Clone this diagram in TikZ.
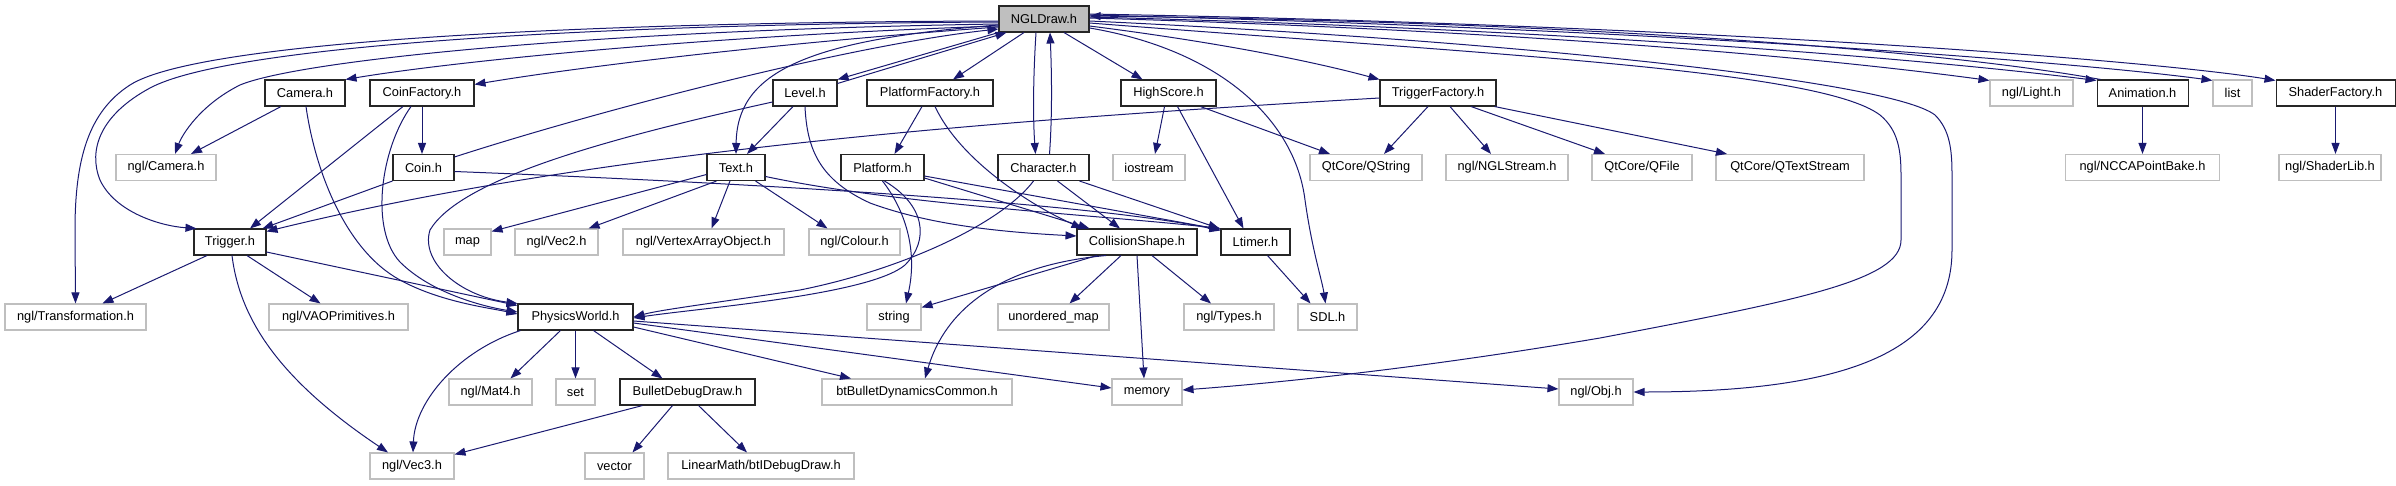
\documentclass[tikz,border=0pt]{standalone}
\usepackage{fontspec}
\setmainfont{Liberation Sans}
\usetikzlibrary{arrows.meta}
\definecolor{edgeblue}{HTML}{191970}
\definecolor{extgrey}{HTML}{BFBFBF}
\definecolor{rootgrey}{HTML}{BFBFBF}
\tikzset{
  base/.style={minimum height=26pt, inner sep=0pt, font=\fontsize{12.8}{15}\selectfont, fill=white},
  doc/.style={base, draw=black!85, line width=1.05pt},
  ext/.style={base, draw=extgrey, line width=1.1pt},
  root/.style={doc, fill=rootgrey},
  dep/.style={draw=edgeblue, line width=1pt, -{Triangle[length=11pt,width=8pt]}},
}
\begin{document}
\begin{tikzpicture}[x=1pt,y=-1pt]
\useasboundingbox (0,0) rectangle (2396,485);
% row 0
\node[root, minimum width=90pt] (ngl) at (1044,19) {NGLDraw.h};
% row 1
\node[doc, minimum width=80pt] (cam) at (305,93) {Camera.h};
\node[doc, minimum width=104pt] (cf) at (422,93) {CoinFactory.h};
\node[doc, minimum width=64pt] (level) at (805,93) {Level.h};
\node[doc, minimum width=126pt] (pf) at (930,93) {PlatformFactory.h};
\node[doc, minimum width=95pt] (hs) at (1168.5,93) {HighScore.h};
\node[doc, minimum width=116pt] (tf) at (1438,93) {TriggerFactory.h};
\node[ext, minimum width=83pt] (light) at (2031.5,93) {ngl/Light.h};
\node[doc, minimum width=91pt] (anim) at (2142.5,93) {Animation.h};
\node[ext, minimum width=39pt] (list) at (2232.5,93) {list};
\node[doc, minimum width=119pt] (sf) at (2335.5,93) {ShaderFactory.h};
% row 2
\node[ext, minimum width=100pt] (ncam) at (166,167.5) {ngl/Camera.h};
\node[doc, minimum width=61pt] (coin) at (423.5,167.5) {Coin.h};
\node[doc, minimum width=58pt] (text) at (736,167.5) {Text.h};
\node[doc, minimum width=83pt] (plat) at (882.5,167.5) {Platform.h};
\node[doc, minimum width=91pt] (char) at (1043.5,167.5) {Character.h};
\node[ext, minimum width=72pt] (ios) at (1149,167.5) {iostream};
\node[ext, minimum width=112pt] (qstr) at (1366,167.5) {QtCore/QString};
\node[ext, minimum width=122pt] (nstr) at (1507,167.5) {ngl/NGLStream.h};
\node[ext, minimum width=100pt] (qfile) at (1642,167.5) {QtCore/QFile};
\node[ext, minimum width=148pt] (qts) at (1790,167.5) {QtCore/QTextStream};
\node[ext, minimum width=154pt] (ncca) at (2142.5,167.5) {ngl/NCCAPointBake.h};
\node[ext, minimum width=102pt] (slib) at (2330,167.5) {ngl/ShaderLib.h};
% row 3
\node[doc, minimum width=72pt] (trig) at (230,242) {Trigger.h};
\node[ext, minimum width=47pt] (map) at (467.5,242) {map};
\node[ext, minimum width=83pt] (vec2) at (556.5,242) {ngl/Vec2.h};
\node[ext, minimum width=161pt] (vao) at (703.5,242) {ngl/VertexArrayObject.h};
\node[ext, minimum width=91pt] (col) at (854.5,242) {ngl/Colour.h};
\node[doc, minimum width=120pt] (cs) at (1137,242) {CollisionShape.h};
\node[doc, minimum width=69pt] (lt) at (1255.5,242) {Ltimer.h};
% row 4
\node[ext, minimum width=141pt] (trans) at (75.5,317) {ngl/Transformation.h};
\node[ext, minimum width=139pt] (vaop) at (338.5,317) {ngl/VAOPrimitives.h};
\node[doc, minimum width=115pt] (pw) at (575.5,317) {PhysicsWorld.h};
\node[ext, minimum width=54pt] (str) at (894,317) {string};
\node[ext, minimum width=111pt] (um) at (1053.5,317) {unordered\_map};
\node[ext, minimum width=90pt] (types) at (1229,317) {ngl/Types.h};
\node[ext, minimum width=59pt] (sdl) at (1327.5,317) {SDL.h};
% row 5
\node[ext, minimum width=83pt] (mat4) at (490.5,392) {ngl/Mat4.h};
\node[ext, minimum width=39pt] (set) at (575.5,392) {set};
\node[doc, minimum width=135pt] (bdd) at (687.5,392) {BulletDebugDraw.h};
\node[ext, minimum width=190pt] (btb) at (917,392) {btBulletDynamicsCommon.h};
\node[ext, minimum width=70pt] (mem) at (1147,392) {memory};
\node[ext, minimum width=74pt] (obj) at (1596,392) {ngl/Obj.h};
% row 6
\node[ext, minimum width=84pt] (vec3) at (412,466) {ngl/Vec3.h};
\node[ext, minimum width=59pt] (vec) at (614.5,466) {vector};
\node[ext, minimum width=186pt] (lm) at (761,466) {LinearMath/btIDebugDraw.h};

% ---- edges from NGLDraw.h, left side
\draw[dep] ([yshift=-2pt]ngl.west) .. controls (600,22) and (200,40) .. (130,85) .. controls (88,112) and (75,160) .. (75,230) -- (trans.north);
\draw[dep] ([yshift=-3pt]ngl.west) .. controls (600,24) and (230,45) .. (150,88) .. controls (100,115) and (88,150) .. (100,180) .. controls (115,212) and (160,226) .. ([xshift=3pt]trig.north west);
\draw[dep] ([yshift=-5pt]ngl.west) .. controls (600,30) and (300,60) .. (240,85) .. controls (200,105) and (182,135) .. ([xshift=9pt]ncam.north);
\draw[dep] ([yshift=-7pt]ngl.west) .. controls (700,36) and (450,62) .. (cam.north east);
\draw[dep] ([yshift=-8pt]ngl.west) .. controls (750,45) and (560,70) .. ([yshift=-5pt]cf.north east);
\draw[dep] ([yshift=-6pt]ngl.west) .. controls (800,40) and (737,75) .. (text.north);
\draw[dep] ([yshift=-3pt]coin.north east) .. controls (600,110) and (850,45) .. ([yshift=-10pt]ngl.west);
\draw[dep] (ngl.south west) -- (level.north east);
\draw[dep] ([yshift=-4pt]level.north east) -- ([xshift=8pt]ngl.south west);
\draw[dep] ([xshift=-20pt]ngl.south) -- ([xshift=23pt]pf.north);
\draw[dep] ([xshift=-8pt]ngl.south) .. controls (1033,80) and (1033,120) .. ([xshift=-8pt]char.north);
\draw[dep] ([xshift=6pt]char.north) .. controls (1052,120) and (1052,80) .. ([xshift=6pt]ngl.south);
\draw[dep] ([xshift=20pt]ngl.south) -- ([xshift=-26pt]hs.north);
% ---- edges from NGLDraw.h, right side
\draw[dep] ([yshift=-7pt]ngl.east) .. controls (1200,40) and (1300,58) .. (tf.north west);
\draw[dep] ([yshift=-9pt]ngl.east) .. controls (1220,50) and (1295,120) .. (1305,200) .. controls (1312,250) and (1322,280) .. ([xshift=-2pt]sdl.north);
\draw[dep] ([yshift=-4pt]ngl.east) .. controls (1500,55) and (1820,70) .. (1880,115) .. controls (1898,130) and (1901,150) .. (1901,175) -- (1901,240) .. controls (1901,280) and (1800,300) .. (1600,338) .. controls (1400,372) and (1250,385) .. ([yshift=2pt]mem.east);
\draw[dep] ([yshift=-2pt]ngl.east) .. controls (1500,40) and (1890,80) .. (1935,115) .. controls (1950,130) and (1952,150) .. (1952,175) -- (1952,250) .. controls (1952,350) and (1850,392) .. (obj.east);
\draw[dep] ([yshift=1pt]ngl.east) .. controls (1500,30) and (1800,55) .. ([yshift=-1pt]light.north west);
\draw[dep] ([yshift=2pt]ngl.east) .. controls (1600,30) and (1950,62) .. ([yshift=-1pt]anim.north west);
\draw[dep] ([xshift=4pt]anim.north west) .. controls (1950,52) and (1600,22) .. ([yshift=3pt]ngl.east);
\draw[dep] ([yshift=4pt]ngl.east) .. controls (1700,30) and (2100,65) .. ([yshift=-1pt]list.north west);
\draw[dep] ([yshift=5pt]ngl.east) .. controls (1700,25) and (2150,60) .. ([yshift=-1pt]sf.north west);

% ---- row 1 edges
\draw[dep] ([xshift=-24pt]cam.south) -- ([xshift=25pt]ncam.north);
\draw[dep] ([xshift=1pt]cam.south) .. controls (315,170) and (345,250) .. (400,280) .. controls (440,302) and (490,308) .. ([yshift=3pt]pw.west);
\draw[dep] ([xshift=-19pt]cf.south) -- ([xshift=20pt]trig.north);
\draw[dep] ([xshift=-11pt]cf.south) .. controls (380,150) and (370,230) .. (400,262) .. controls (430,292) and (480,306) .. ([yshift=5pt]pw.west);
\draw[dep] (cf.south) -- ([xshift=-1.5pt]coin.north);
\draw[dep] (coin.south west) -- ([xshift=-4pt]trig.north east);
\draw[dep] ([yshift=-4pt]coin.east) .. controls (800,185) and (1100,205) .. ([yshift=-2pt]lt.north west);
\draw[dep] ([xshift=-12pt]level.south) -- ([xshift=11pt]text.north);
\draw[dep] ([yshift=-9pt]level.west) .. controls (600,140) and (460,180) .. (430,230) .. controls (420,262) and (460,296) .. (pw.north west);
\draw[dep] (level.south) .. controls (807,150) and (820,180) .. (870,203) .. controls (930,225) and (1000,232) .. ([yshift=6pt]cs.west);
\draw[dep] ([xshift=-8pt]pf.south) -- ([xshift=12pt]plat.north);
\draw[dep] ([xshift=5pt]pf.south) .. controls (960,160) and (1030,205) .. ([xshift=6pt]cs.north west);
\draw[dep] ([xshift=-4pt]hs.south) -- ([xshift=6pt]ios.north);
\draw[dep] ([xshift=9pt]hs.south) -- ([xshift=-12pt]lt.north);
\draw[dep] ([xshift=-16pt]hs.south east) -- ([xshift=-36pt]qstr.north);
\draw[dep] ([yshift=-5pt]tf.west) .. controls (1000,120) and (600,150) .. ([yshift=-3pt]trig.north east);
\draw[dep] ([xshift=-10pt]tf.south) -- ([xshift=18pt]qstr.north);
\draw[dep] ([xshift=12pt]tf.south) -- ([xshift=-16pt]nstr.north);
\draw[dep] ([xshift=33pt]tf.south) -- ([xshift=-37pt]qfile.north);
\draw[dep] ([xshift=-2pt]tf.south east) -- ([xshift=-63pt]qts.north);
\draw[dep] (anim.south) -- (ncca.north);
\draw[dep] (sf.south) -- (sf.south |- slib.north);

% ---- row 2 edges
\draw[dep] ([yshift=-7pt]text.west) -- ([yshift=-3pt]map.north east);
\draw[dep] ([xshift=10pt]text.south west) -- ([xshift=-10pt]vec2.north east);
\draw[dep] ([xshift=-6pt]text.south) -- ([xshift=8pt]vao.north);
\draw[dep] ([xshift=-10pt]text.south east) -- ([xshift=-27pt]col.north);
\draw[dep] ([yshift=-9pt]text.east) .. controls (900,205) and (1100,215) .. (lt.north west);
\draw[dep] (plat.south) .. controls (905,210) and (918,250) .. ([xshift=12pt]str.north);
\draw[dep] ([xshift=2pt]plat.south) .. controls (925,205) and (930,240) .. (905,265) .. controls (870,295) and (700,308) .. ([yshift=-1pt]pw.east);
\draw[dep] ([yshift=3pt]plat.south east) -- ([xshift=13pt]cs.north west);
\draw[dep] ([yshift=5pt]plat.south east) -- ([yshift=-1pt]lt.north west);
\draw[dep] ([xshift=-10pt]char.south) .. controls (1000,225) and (900,270) .. (800,290) .. controls (700,305) and (660,310) .. (pw.east);
\draw[dep] ([xshift=14pt]char.south) -- ([xshift=-17pt]cs.north);
\draw[dep] ([xshift=-10pt]char.south east) -- ([xshift=-1pt]lt.north west);

% ---- row 3 edges
\draw[dep] ([xshift=-23pt]trig.south) -- ([xshift=27pt]trans.north);
\draw[dep] ([xshift=17pt]trig.south) -- ([xshift=-18pt]vaop.north);
\draw[dep] ([yshift=-10pt]trig.east) -- ([yshift=-2pt]pw.north west);
\draw[dep] ([xshift=2pt]trig.south) .. controls (240,320) and (280,380) .. ([xshift=-24pt]vec3.north);
\draw[dep] ([xshift=-40pt]cs.south) -- ([yshift=-4pt]str.north east);
\draw[dep] ([xshift=-31pt]cs.south) .. controls (1000,265) and (945,310) .. ([xshift=8pt]btb.north);
\draw[dep] ([xshift=-16pt]cs.south) -- ([xshift=16pt]um.north);
\draw[dep] (cs.south) -- ([xshift=-3pt]mem.north);
\draw[dep] ([xshift=15pt]cs.south) -- ([xshift=-18pt]types.north);
\draw[dep] ([xshift=12pt]lt.south) -- ([xshift=-17pt]sdl.north);

% ---- row 4 edges
\draw[dep] ([xshift=-55pt]pw.south) .. controls (460,350) and (415,400) .. ([xshift=1pt]vec3.north);
\draw[dep] ([xshift=-15pt]pw.south) -- ([xshift=20pt]mat4.north);
\draw[dep] (pw.south) -- (set.north);
\draw[dep] ([xshift=18pt]pw.south) -- ([xshift=-25pt]bdd.north);
\draw[dep] ([yshift=-10pt]pw.east) -- ([xshift=-66pt]btb.north);
\draw[dep] ([yshift=-6pt]pw.east) -- ([yshift=4pt]mem.west);
\draw[dep] ([yshift=-4pt]pw.east) -- ([yshift=3pt]obj.west);

% ---- row 5 edges
\draw[dep] ([xshift=-45pt]bdd.south) -- ([yshift=-2pt]vec3.north east);
\draw[dep] ([xshift=-15pt]bdd.south) -- ([xshift=18pt]vec.north);
\draw[dep] ([xshift=11pt]bdd.south) -- ([xshift=-14pt]lm.north);
\end{tikzpicture}
\end{document}
